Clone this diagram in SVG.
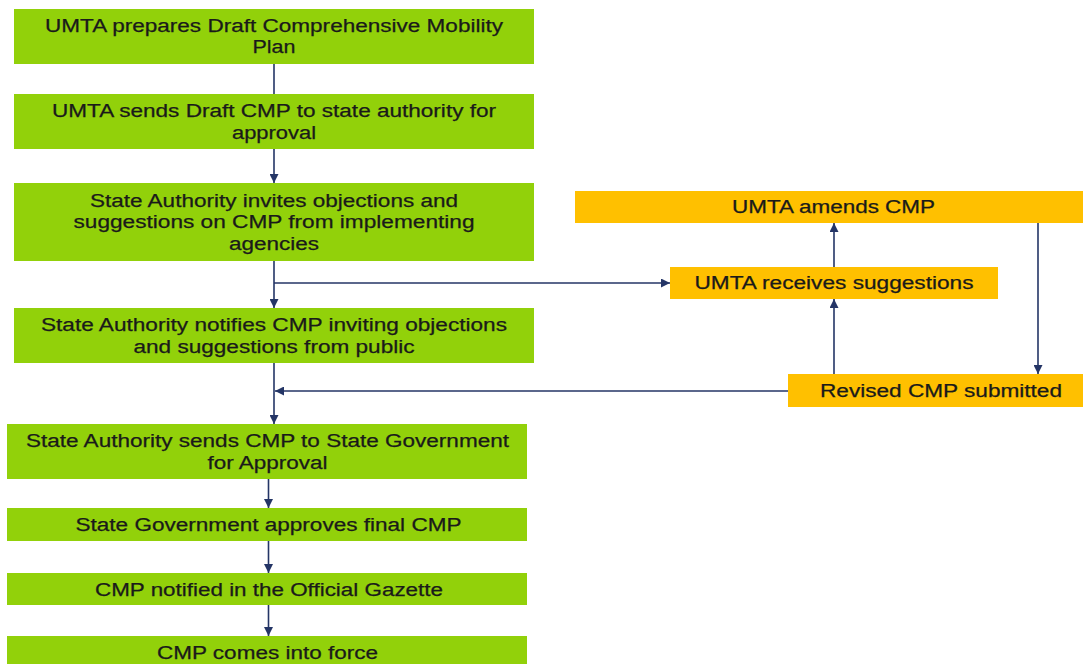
<svg xmlns="http://www.w3.org/2000/svg" width="1083" height="664" viewBox="0 0 1083 664">
  <style>
    .green { fill: #92D10A; }
    .amber { fill: #FFC000; }
    .lbl { font-family: "Liberation Sans", Arial, sans-serif; font-size: 18px; fill: #1A1A1A; text-anchor: middle; stroke: #1A1A1A; stroke-width: 0.25; }
    .wire { fill: none; stroke: #243566; stroke-width: 1.6; }
  </style>
  <defs>
    <marker id="head" viewBox="0 0 10 10" refX="10" refY="5" markerWidth="9" markerHeight="9" markerUnits="userSpaceOnUse" orient="auto">
      <path d="M0,0 L10,5 L0,10 Z" fill="#243566"/>
    </marker>
  </defs>
  <rect width="1083" height="664" fill="#FFFFFF"/>

  <!-- main approval chain -->
  <g id="n1">
    <rect class="green" x="14" y="9" width="520" height="55"/>
    <text class="lbl" x="274" y="31.5" textLength="458" lengthAdjust="spacingAndGlyphs">UMTA prepares Draft Comprehensive Mobility</text>
    <text class="lbl" x="274" y="53" textLength="43" lengthAdjust="spacingAndGlyphs">Plan</text>
  </g>
  <g id="n2">
    <rect class="green" x="14" y="94" width="520" height="55"/>
    <text class="lbl" x="274" y="117" textLength="444" lengthAdjust="spacingAndGlyphs">UMTA sends Draft CMP to state authority for</text>
    <text class="lbl" x="274" y="138.5" textLength="84" lengthAdjust="spacingAndGlyphs">approval</text>
  </g>
  <g id="n3">
    <rect class="green" x="14" y="183" width="520" height="78"/>
    <text class="lbl" x="274" y="206.5" textLength="368" lengthAdjust="spacingAndGlyphs">State Authority invites objections and</text>
    <text class="lbl" x="274" y="228" textLength="401" lengthAdjust="spacingAndGlyphs">suggestions on CMP from implementing</text>
    <text class="lbl" x="274" y="249.5" textLength="90" lengthAdjust="spacingAndGlyphs">agencies</text>
  </g>
  <g id="n4">
    <rect class="green" x="14" y="308" width="520" height="55"/>
    <text class="lbl" x="274" y="331" textLength="466" lengthAdjust="spacingAndGlyphs">State Authority notifies CMP inviting objections</text>
    <text class="lbl" x="274" y="352.5" textLength="281" lengthAdjust="spacingAndGlyphs">and suggestions from public</text>
  </g>
  <g id="n5">
    <rect class="green" x="7" y="424" width="520" height="55"/>
    <text class="lbl" x="267.5" y="447" textLength="483" lengthAdjust="spacingAndGlyphs">State Authority sends CMP to State Government</text>
    <text class="lbl" x="267.5" y="468.5" textLength="120" lengthAdjust="spacingAndGlyphs">for Approval</text>
  </g>
  <g id="n6">
    <rect class="green" x="7" y="508" width="520" height="33"/>
    <text class="lbl" x="268.5" y="530.5" textLength="386" lengthAdjust="spacingAndGlyphs">State Government approves final CMP</text>
  </g>
  <g id="n7">
    <rect class="green" x="7" y="573" width="520" height="32"/>
    <text class="lbl" x="269" y="595.5" textLength="348" lengthAdjust="spacingAndGlyphs">CMP notified in the Official Gazette</text>
  </g>
  <g id="n8">
    <rect class="green" x="7" y="636" width="520" height="34"/>
    <text class="lbl" x="267.5" y="659" textLength="221" lengthAdjust="spacingAndGlyphs">CMP comes into force</text>
  </g>

  <!-- UMTA revision loop -->
  <g id="n9">
    <rect class="amber" x="575" y="191" width="520" height="32"/>
    <text class="lbl" x="833.5" y="213" textLength="203" lengthAdjust="spacingAndGlyphs">UMTA amends CMP</text>
  </g>
  <g id="n10">
    <rect class="amber" x="670" y="267" width="328" height="32"/>
    <text class="lbl" x="834" y="289" textLength="279" lengthAdjust="spacingAndGlyphs">UMTA receives suggestions</text>
  </g>
  <g id="n11">
    <rect class="amber" x="788" y="374" width="307" height="33"/>
    <text class="lbl" x="941" y="396.5" textLength="242" lengthAdjust="spacingAndGlyphs">Revised CMP submitted</text>
  </g>

  <g id="connectors">
    <line class="wire" x1="274" y1="64" x2="274" y2="94"/>
    <line class="wire" x1="274" y1="149" x2="274" y2="183" marker-end="url(#head)"/>
    <line class="wire" x1="274" y1="261" x2="274" y2="308" marker-end="url(#head)"/>
    <line class="wire" x1="274" y1="283" x2="670" y2="283" marker-end="url(#head)"/>
    <line class="wire" x1="274" y1="363" x2="274" y2="424" marker-end="url(#head)"/>
    <line class="wire" x1="788" y1="391" x2="275" y2="391" marker-end="url(#head)"/>
    <line class="wire" x1="268.5" y1="479" x2="268.5" y2="508" marker-end="url(#head)"/>
    <line class="wire" x1="268.5" y1="541" x2="268.5" y2="573" marker-end="url(#head)"/>
    <line class="wire" x1="268.5" y1="605" x2="268.5" y2="636" marker-end="url(#head)"/>
    <line class="wire" x1="834" y1="267" x2="834" y2="223" marker-end="url(#head)"/>
    <line class="wire" x1="834" y1="374" x2="834" y2="299" marker-end="url(#head)"/>
    <line class="wire" x1="1038" y1="223" x2="1038" y2="374" marker-end="url(#head)"/>
  </g>
</svg>
